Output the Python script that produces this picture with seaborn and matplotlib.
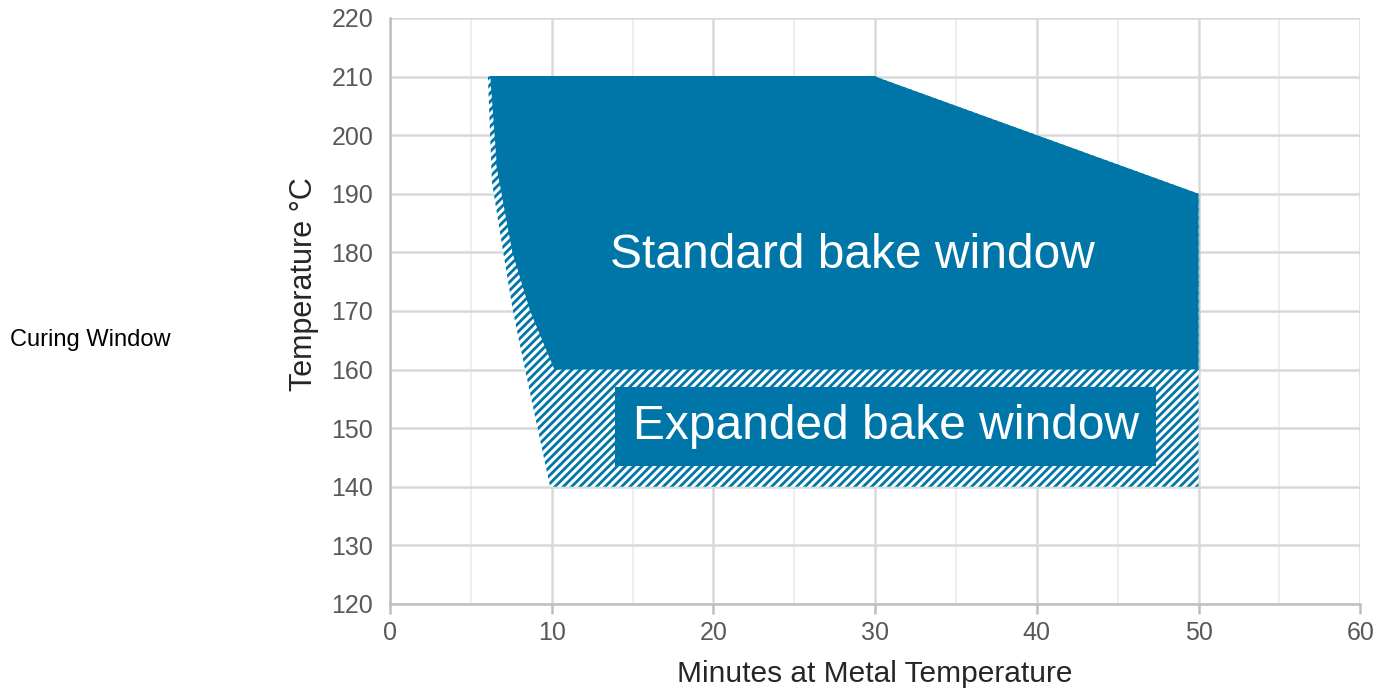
import matplotlib
matplotlib.use("Agg")
import matplotlib.pyplot as plt
import seaborn as sns
import pandas as pd

# -------------------- DATA --------------------
# expanded (hatched) bake window outline
expanded_minutes = [6.05, 6.3, 7.0, 7.6, 8.35, 9.9, 50, 50, 30]
expanded_temp = [210, 192, 180, 170, 160, 140, 140, 190, 210]

# standard (solid) bake window outline
standard_minutes = [6.2, 30, 50, 50, 10.2, 8.7, 7.6, 6.6]
standard_temp = [210, 210, 190, 160, 160, 170, 180, 195]

x_ticks = [0, 10, 20, 30, 40, 50, 60]
y_ticks = [120, 130, 140, 150, 160, 170, 180, 190, 200, 210, 220]

BLUE = "#0076A8"
GRID = "#d9d9d9"
TXT = "#595959"

sns.set_theme(style="whitegrid")
plt.rcParams["font.family"] = ["Liberation Sans", "DejaVu Sans"]
plt.rcParams["hatch.linewidth"] = 2.0

fig = plt.figure(figsize=(13.88, 6.91), dpi=100)
ax = fig.add_axes([0.281, 0.126, 0.699, 0.848])

std = pd.DataFrame({"minutes": standard_minutes + standard_minutes[:1],
                    "temp": standard_temp + standard_temp[:1]})

# hatched expanded window
ax.fill(expanded_minutes, expanded_temp, facecolor="white", edgecolor=BLUE,
        hatch="////", linewidth=0, zorder=2)
# solid standard window
ax.fill(std["minutes"], std["temp"], color=BLUE, linewidth=0, zorder=3)
sns.lineplot(data=std, x="minutes", y="temp", sort=False, color=BLUE,
             linewidth=0.8, ax=ax, zorder=3)

ax.text(28.6, 179.4, "Standard bake window", color="white", fontsize=34.5,
        ha="center", va="center", zorder=5)
ax.text(30.65, 150.3, "Expanded bake window", color="white", fontsize=34.5,
        ha="center", va="center", zorder=5,
        bbox=dict(boxstyle="square,pad=0.36", facecolor=BLUE, edgecolor="none"))

ax.set_xlim(0, 60)
ax.set_ylim(120, 220)
ax.set_xticks(x_ticks)
ax.set_yticks(y_ticks)
ax.set_xticks([5, 15, 25, 35, 45, 55], minor=True)

ax.grid(True, which="major", color=GRID, linewidth=1.8, zorder=0)
ax.grid(True, which="minor", axis="x", color="#eeeeee", linewidth=1.5, zorder=0)
ax.set_axisbelow(True)

for side in ["top", "right"]:
    ax.spines[side].set_visible(False)
for side in ["left", "bottom"]:
    ax.spines[side].set_color("#bfbfbf")
    ax.spines[side].set_linewidth(1.8)

ax.tick_params(axis="x", which="major", length=7, width=1.8, color="#bfbfbf",
               labelsize=18, labelcolor=TXT, pad=5, bottom=True)
ax.tick_params(axis="y", which="major", length=0, labelsize=18,
               labelcolor=TXT, pad=12)
ax.tick_params(axis="x", which="minor", length=0)

ax.set_xlabel("Minutes at Metal Temperature", fontsize=21.5, color="#262626",
              labelpad=11)
ax.set_ylabel("Temperature °C", fontsize=22, color="#262626")
ax.yaxis.set_label_coords(-0.073, 0.546)

fig.text(0.007, 1 - 340 / 691, "Curing Window", fontsize=17, color="black",
         va="center", ha="left")

fig.savefig("out.png", dpi=100)
